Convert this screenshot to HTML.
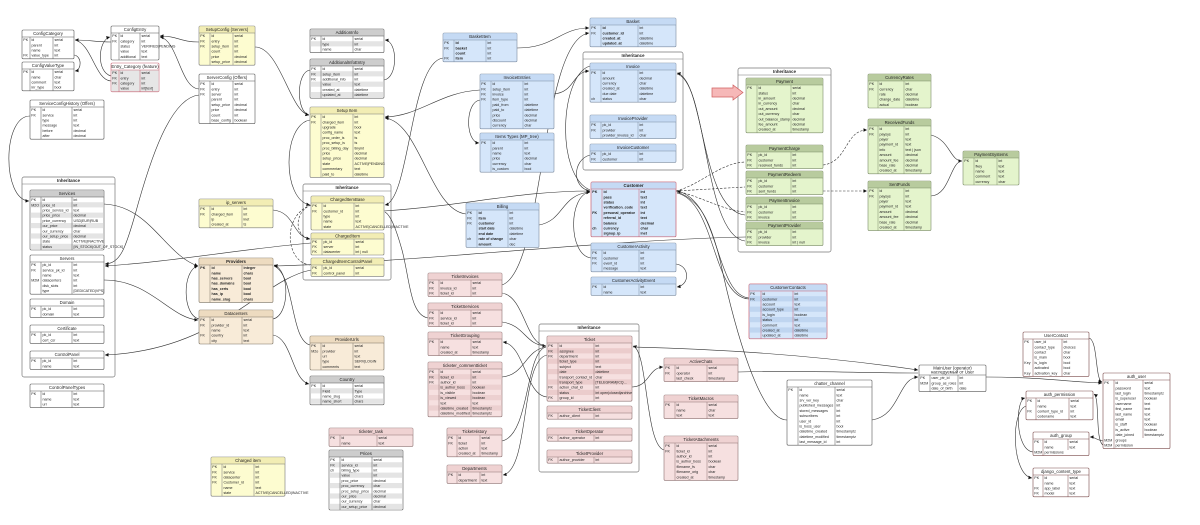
<!DOCTYPE html>
<html><head><meta charset="utf-8"><style>
html,body{margin:0;padding:0;background:#fff;width:1200px;height:525px;overflow:hidden}
svg{display:block}
text{font-family:"Liberation Sans",sans-serif;fill:#222}
.t{font-size:4.3px;text-anchor:middle}
.r{font-size:3.6px}
.b{font-weight:bold}
.ln{fill:none;stroke:#333;stroke-width:.6}
.ds{stroke-dasharray:2.5 1.5}
.g{stroke-width:.5}
</style></head><body>
<svg width="1200" height="525" viewBox="0 0 1200 525" xmlns="http://www.w3.org/2000/svg">
<defs><marker id="a" viewBox="0 0 6 6" refX="6" refY="3" markerWidth="3.6" markerHeight="3.6" markerUnits="userSpaceOnUse" orient="auto"><path d="M0 0L6 3L0 6z" fill="#111"/></marker></defs>
<rect width="1200" height="525" fill="#fff"/>

<!-- containers -->
<g transform="translate(22,177)"><rect width="93" height="200" rx="2" fill="#fff" stroke="#777" stroke-width=".7"/><path d="M0 7H93" stroke="#777" stroke-width=".5"/><text class="t b" x="46.5" y="5.2">Inheritance</text></g>
<g transform="translate(303,184)"><rect width="88" height="96" rx="2" fill="#fff" stroke="#777" stroke-width=".7"/><path d="M0 7H88" stroke="#777" stroke-width=".5"/><text class="t b" x="44" y="5.2">Inheritance</text></g>
<g transform="translate(583,52)"><rect width="100" height="118" rx="2" fill="#fff" stroke="#777" stroke-width=".7"/><path d="M0 7H100" stroke="#777" stroke-width=".5"/><text class="t b" x="50" y="5.2">Inheritance</text></g>
<g transform="translate(738,68)"><rect width="93" height="184" rx="2" fill="#fff" stroke="#777" stroke-width=".7"/><path d="M0 7H93" stroke="#777" stroke-width=".5"/><text class="t b" x="46.5" y="5.2">Inheritance</text></g>
<g transform="translate(539,324)"><rect width="100" height="148" rx="2" fill="#fff" stroke="#777" stroke-width=".7"/><path d="M0 7H100" stroke="#777" stroke-width=".5"/><text class="t b" x="50" y="5.2">Inheritance</text></g>

<!-- connectors -->
<g class="ln">
<path d="M111 42C95 42 90 40 75 40" marker-end="url(#a)"/>
<path d="M111 76C96 72 98 40 110 37" marker-end="url(#a)"/>
<path d="M111 81C95 80 92 44 75 40"/>
<path d="M74 55C82 56 82 70 75 71" marker-end="url(#a)"/>
<path d="M199 42C180 42 178 36 160 36" marker-end="url(#a)"/>
<path d="M199 89C180 88 178 40 160 37" marker-end="url(#a)"/>
<path d="M255 47C280 47 290 112 309 115" marker-end="url(#a)"/>
<path d="M199 95C170 98 150 160 135 215C125 250 120 263 105 264" marker-end="url(#a)"/>
<path d="M30 116C2 116 2 200 29 201" marker-end="url(#a)"/>
<path d="M104 204C150 206 165 255 198 266" marker-end="url(#a)"/>
<path d="M104 280C150 280 170 318 198 320" marker-end="url(#a)"/>
<path d="M311 243C250 248 170 262 105 266" marker-end="url(#a)"/>
<path d="M311 270C260 280 220 350 105 355" marker-end="url(#a)"/>
<path d="M199 319C182 315 182 270 198 266" marker-end="url(#a)"/>
<path d="M273 319C290 315 290 270 274 265" marker-end="url(#a)"/>
<path d="M273 335C292 338 292 380 309 384" marker-end="url(#a)"/>
<path d="M310 345C290 340 295 275 274 266"/>
<path d="M746 237C600 240 420 262 274 266" marker-end="url(#a)"/>
<path d="M310 120C282 125 282 200 310 205" marker-end="url(#a)"/>
<path class="ds" d="M311 205C282 215 285 262 310 265"/>
<path class="ds" d="M311 205C294 212 294 236 310 239"/>
<path d="M273 210C295 212 292 236 310 239" marker-end="url(#a)"/>
<path d="M310 70C296 72 296 112 309 115" marker-end="url(#a)"/>
<path d="M384 80C398 78 398 41 385 40" marker-end="url(#a)"/>
<path d="M480 90C440 92 420 116 385 117" marker-end="url(#a)"/>
<path d="M466 214C430 210 420 122 385 118" marker-end="url(#a)"/>
<path d="M443 58C410 62 410 200 385 205" marker-end="url(#a)"/>
<path d="M517 48C555 48 560 28 589 28" marker-end="url(#a)"/>
<path d="M554 94C575 92 572 72 589 71" marker-end="url(#a)"/>
<path d="M480 100C465 102 465 142 479 143" marker-end="url(#a)"/>
<path d="M384 211C470 205 520 191 590 191" marker-end="url(#a)"/>
<path d="M539 225C565 220 560 195 590 192" marker-end="url(#a)"/>
<path d="M590 155C572 160 572 188 590 191"/>
<path d="M591 258C568 255 568 195 590 192" marker-end="url(#a)"/>
<path d="M676 264C690 266 690 285 677 287" marker-end="url(#a)"/>
<path d="M502 285C545 270 540 40 589 33" marker-end="url(#a)"/>
<path d="M590 66C560 75 555 175 590 190"/>
<path class="ds" d="M676 191C700 185 720 163 745 162"/>
<path class="ds" d="M676 191L745 187"/>
<path class="ds" d="M676 191C700 196 722 210 745 212"/>
<path d="M745 215C700 210 705 80 677 73" marker-end="url(#a)"/>
<path d="M745 241C703 235 708 82 677 74"/>
<path d="M749 298C715 295 720 200 677 191" marker-end="url(#a)"/>
<path d="M749 299C712 297 716 202 677 193"/>
<path d="M787 420C760 420 735 330 720 260C710 220 700 200 677 192"/>
<path class="ds" d="M823 165C848 162 845 130 867 130" marker-end="url(#a)"/>
<path class="ds" d="M823 191L867 191" marker-end="url(#a)"/>
<path d="M931 135C950 140 950 161 962 161" marker-end="url(#a)"/>
<path d="M931 196C950 195 950 162 962 161"/>
<path d="M502 293C525 297 525 344 546 346" marker-end="url(#a)"/>
<path d="M502 322C525 325 525 345 546 346"/>
<path d="M502 377C525 375 525 350 546 347"/>
<path d="M502 441C530 435 525 352 546 347"/>
<path d="M547 397C525 395 525 345 503 342" marker-end="url(#a)"/>
<path d="M547 355C520 360 530 470 503 475" marker-end="url(#a)"/>
<path d="M428 318C410 315 410 280 402 250C395 225 390 215 385 212"/>
<path d="M632 387C650 386 648 368 663 367" marker-end="url(#a)"/>
<path d="M664 450C645 445 648 350 633 346" marker-end="url(#a)"/>
<path d="M633 347C760 350 850 360 918 370" marker-end="url(#a)"/>
<path d="M738 372C800 370 860 373 918 373"/>
<path d="M872 420C900 416 898 378 918 377" marker-end="url(#a)"/>
<path d="M986 377C1040 377 1070 382 1102 383" marker-end="url(#a)"/>
<path d="M1089 338C1098 340 1095 380 1102 382" marker-end="url(#a)"/>
<path d="M1103 441C1096 440 1095 437 1090 437" marker-end="url(#a)"/>
<path d="M1103 445C1095 440 1100 398 1094 394" marker-end="url(#a)"/>
<path d="M1033 452C1015 450 1015 400 1025 398" marker-end="url(#a)"/>
<path d="M1026 406C1010 412 1012 475 1032 478" marker-end="url(#a)"/>
</g>

<!-- pink arrow -->
<path d="M712 88H733V85L743 92.5L733 100V97H712Z" fill="#f6b8b8" stroke="#d06060" stroke-width=".7"/>

<!-- ConfigCategory -->
<g transform="translate(22,30)"><rect width="52" height="28.8" rx="1.2" fill="#fff" stroke="#555" stroke-width=".6"/><path class="g" d="M0 7H52M8 7V28.8M31 7V28.8" stroke="#555"/><text class="t" x="26" y="5.2">ConfigCategory</text><text class="r" x="1.3" y="11.1">PK</text><text class="r" x="1.3" y="26.7">FK</text><text class="r" y="11.1"><tspan x="9.5">id</tspan><tspan x="9.5" dy="5.2">parent</tspan><tspan x="9.5" dy="5.2">name</tspan><tspan x="9.5" dy="5.2">value_type</tspan></text><text class="r" y="11.1"><tspan x="32.5">serial</tspan><tspan x="32.5" dy="5.2">int</tspan><tspan x="32.5" dy="5.2">text</tspan><tspan x="32.5" dy="5.2">int</tspan></text></g>
<!-- ConfigValueType -->
<g transform="translate(22,62)"><rect width="52" height="28.8" rx="1.2" fill="#fff" stroke="#555" stroke-width=".6"/><path class="g" d="M0 7H52M8 7V28.8M31 7V28.8" stroke="#555"/><text class="t" x="26" y="5.2">ConfigValueType</text><text class="r" x="1.3" y="11.1">PK</text><text class="r" y="11.1"><tspan x="9.5">id</tspan><tspan x="9.5" dy="5.2">name</tspan><tspan x="9.5" dy="5.2">comment</tspan><tspan x="9.5" dy="5.2">inr_type</tspan></text><text class="r" y="11.1"><tspan x="32.5">serial</tspan><tspan x="32.5" dy="5.2">char</tspan><tspan x="32.5" dy="5.2">text</tspan><tspan x="32.5" dy="5.2">bool</tspan></text></g>
<!-- ConfigEntry -->
<g transform="translate(111,26)"><rect width="48" height="34" rx="1.2" fill="#fff" stroke="#555" stroke-width=".6"/><path class="g" d="M0 7H48M8 7V34M29 7V34" stroke="#555"/><text class="t" x="24" y="5.2">ConfigEntry</text><text class="r" x="1.3" y="11.1">PK</text><text class="r" x="1.3" y="16.3">FK</text><text class="r" y="11.1"><tspan x="9.5">id</tspan><tspan x="9.5" dy="5.2">category</tspan><tspan x="9.5" dy="5.2">status</tspan><tspan x="9.5" dy="5.2">value</tspan><tspan x="9.5" dy="5.2">additional</tspan></text><text class="r" y="11.1"><tspan x="30.5">serial</tspan><tspan x="30.5" dy="5.2">int</tspan><tspan x="30.5" dy="5.2">VERIFIED|PENDING</tspan><tspan x="30.5" dy="5.2">text</tspan><tspan x="30.5" dy="5.2">text</tspan></text></g>
<!-- Entry_Category -->
<g transform="translate(111,63)"><rect width="48" height="28.8" rx="1.2" fill="#fff" stroke="#c86070" stroke-width=".6"/><rect x=".3" y="7" width="47.4" height="21.5" fill="#e6e6e6"/><path class="g" d="M0 7H48M8 7V28.8M29 7V28.8" stroke="#c86070"/><text class="t" x="24" y="5.2">Entry_Category (feature)</text><text class="r" x="1.3" y="11.1">PK</text><text class="r" x="1.3" y="16.3">FK</text><text class="r" x="1.3" y="21.5">FK</text><text class="r" y="11.1"><tspan x="9.5">id</tspan><tspan x="9.5" dy="5.2">entry</tspan><tspan x="9.5" dy="5.2">category</tspan><tspan x="9.5" dy="5.2">value</tspan></text><text class="r" y="11.1"><tspan x="30.5">serial</tspan><tspan x="30.5" dy="5.2">int</tspan><tspan x="30.5" dy="5.2">int</tspan><tspan x="30.5" dy="5.2">int[text]</tspan></text></g>
<!-- SetupConfig -->
<g transform="translate(199,26)"><rect width="56" height="39.2" rx="1.2" fill="#fdfcd0" stroke="#777" stroke-width=".6"/><rect x=".3" y=".3" width="55.4" height="6.7" fill="#f2edb4"/><path class="g" d="M0 7H56M11 7V39.2M34 7V39.2" stroke="#777"/><text class="t" x="28" y="5.2">SetupConfig (Servers)</text><text class="r" x="1.3" y="11.1">PK</text><text class="r" x="1.3" y="16.3">FK</text><text class="r" x="1.3" y="21.5">FK</text><text class="r" y="11.1"><tspan x="12.5">id</tspan><tspan x="12.5" dy="5.2">entry</tspan><tspan x="12.5" dy="5.2">setup_item</tspan><tspan x="12.5" dy="5.2">count</tspan><tspan x="12.5" dy="5.2">price</tspan><tspan x="12.5" dy="5.2">setup_price</tspan></text><text class="r" y="11.1"><tspan x="35.5">serial</tspan><tspan x="35.5" dy="5.2">int</tspan><tspan x="35.5" dy="5.2">int</tspan><tspan x="35.5" dy="5.2">int</tspan><tspan x="35.5" dy="5.2">decimal</tspan><tspan x="35.5" dy="5.2">decimal</tspan></text></g>
<!-- ServerConfig -->
<g transform="translate(199,74)"><rect width="56" height="49.6" rx="1.2" fill="#fff" stroke="#555" stroke-width=".6"/><path class="g" d="M0 7H56M11 7V49.6M34 7V49.6" stroke="#555"/><text class="t" x="28" y="5.2">ServerConfig (Offers)</text><text class="r" x="1.3" y="11.1">PK</text><text class="r" x="1.3" y="16.3">FK</text><text class="r" x="1.3" y="21.5">FK</text><text class="r" y="11.1"><tspan x="12.5">id</tspan><tspan x="12.5" dy="5.2">entry</tspan><tspan x="12.5" dy="5.2">server</tspan><tspan x="12.5" dy="5.2">parent</tspan><tspan x="12.5" dy="5.2">setup_price</tspan><tspan x="12.5" dy="5.2">price</tspan><tspan x="12.5" dy="5.2">count</tspan><tspan x="12.5" dy="5.2">base_config</tspan></text><text class="r" y="11.1"><tspan x="35.5">serial</tspan><tspan x="35.5" dy="5.2">int</tspan><tspan x="35.5" dy="5.2">int</tspan><tspan x="35.5" dy="5.2">int</tspan><tspan x="35.5" dy="5.2">decimal</tspan><tspan x="35.5" dy="5.2">decimal</tspan><tspan x="35.5" dy="5.2">int</tspan><tspan x="35.5" dy="5.2">boolean</tspan></text></g>
<!-- ServiceConfigHistory -->
<g transform="translate(30,100)"><rect width="74" height="39.2" rx="1.2" fill="#fff" stroke="#555" stroke-width=".6"/><path class="g" d="M0 7H74M11 7V39.2M42 7V39.2" stroke="#555"/><text class="t" x="37" y="5.2">ServiceConfigHistory (Offers)</text><text class="r" x="1.3" y="11.1">PK</text><text class="r" x="1.3" y="16.3">FK</text><text class="r" y="11.1"><tspan x="12.5">id</tspan><tspan x="12.5" dy="5.2">service</tspan><tspan x="12.5" dy="5.2">type</tspan><tspan x="12.5" dy="5.2">message</tspan><tspan x="12.5" dy="5.2">before</tspan><tspan x="12.5" dy="5.2">after</tspan></text><text class="r" y="11.1"><tspan x="43.5">serial</tspan><tspan x="43.5" dy="5.2">int</tspan><tspan x="43.5" dy="5.2">int</tspan><tspan x="43.5" dy="5.2">text</tspan><tspan x="43.5" dy="5.2">decimal</tspan><tspan x="43.5" dy="5.2">decimal</tspan></text></g>
<!-- Services -->
<g transform="translate(30,190)"><rect width="74" height="60" rx="1.2" fill="#fff" stroke="#555" stroke-width=".6"/><rect x=".3" y=".3" width="73.4" height="6.7" fill="#cdcdcd"/><g fill="#e4e4e4"><rect x=".3" y="12.2" width="73.4" height="5.2"/><rect x=".3" y="22.6" width="73.4" height="5.2"/><rect x=".3" y="33" width="73.4" height="5.2"/><rect x=".3" y="43.4" width="73.4" height="5.2"/><rect x=".3" y="53.8" width="73.4" height="5.2"/></g><path class="g" d="M0 7H74M11 7V60M42 7V60" stroke="#555"/><text class="t" x="37" y="5.2">Services</text><text class="r" x="1.3" y="11.1">PK</text><text class="r" x="1.3" y="16.3">M2O</text><text class="r" y="11.1"><tspan x="12.5">id</tspan><tspan x="12.5" dy="5.2">price_id</tspan><tspan x="12.5" dy="5.2">price_service_id</tspan><tspan x="12.5" dy="5.2">price_price</tspan><tspan x="12.5" dy="5.2">price_currency</tspan><tspan x="12.5" dy="5.2">our_price</tspan><tspan x="12.5" dy="5.2">our_currency</tspan><tspan x="12.5" dy="5.2">our_setup_price</tspan><tspan x="12.5" dy="5.2">state</tspan><tspan x="12.5" dy="5.2">status</tspan></text><text class="r" y="11.1"><tspan x="43.5">int</tspan><tspan x="43.5" dy="5.2">int</tspan><tspan x="43.5" dy="5.2">text</tspan><tspan x="43.5" dy="5.2">decimal</tspan><tspan x="43.5" dy="5.2">USD|EUR|RUB</tspan><tspan x="43.5" dy="5.2">decimal</tspan><tspan x="43.5" dy="5.2">char</tspan><tspan x="43.5" dy="5.2">decimal</tspan><tspan x="43.5" dy="5.2">ACTIVE|INACTIVE</tspan><tspan x="43.5" dy="5.2">[IN_STOCK|OUT_OF_STOCK]</tspan></text></g>
<!-- Servers -->
<g transform="translate(30,255)"><rect width="74" height="39.2" rx="1.2" fill="#fff" stroke="#555" stroke-width=".6"/><path class="g" d="M0 7H74M11 7V39.2M42 7V39.2" stroke="#555"/><text class="t" x="37" y="5.2">Servers</text><text class="r" x="1.3" y="11.1">PK</text><text class="r" x="1.3" y="16.3">FK</text><text class="r" x="1.3" y="26.7">M2M</text><text class="r" y="11.1"><tspan x="12.5">pk_id</tspan><tspan x="12.5" dy="5.2">service_pk_id</tspan><tspan x="12.5" dy="5.2">name</tspan><tspan x="12.5" dy="5.2">datacenters</tspan><tspan x="12.5" dy="5.2">disk_slots</tspan><tspan x="12.5" dy="5.2">type</tspan></text><text class="r" y="11.1"><tspan x="43.5">int</tspan><tspan x="43.5" dy="5.2">int</tspan><tspan x="43.5" dy="5.2">text</tspan><tspan x="43.5" dy="5.2">int</tspan><tspan x="43.5" dy="5.2">int</tspan><tspan x="43.5" dy="5.2">[DEDICATED|VPS]</tspan></text></g>
<!-- Domain -->
<g transform="translate(30,299)"><rect width="74" height="18.4" rx="1.2" fill="#fff" stroke="#555" stroke-width=".6"/><path class="g" d="M0 7H74M11 7V18.4M42 7V18.4" stroke="#555"/><text class="t" x="37" y="5.2">Domain</text><text class="r" x="1.3" y="11.1">PK</text><text class="r" y="11.1"><tspan x="12.5">pk_id</tspan><tspan x="12.5" dy="5.2">domain</tspan></text><text class="r" y="11.1"><tspan x="43.5">int</tspan><tspan x="43.5" dy="5.2">text</tspan></text></g>
<!-- Certificate -->
<g transform="translate(30,325)"><rect width="74" height="18.4" rx="1.2" fill="#fff" stroke="#555" stroke-width=".6"/><path class="g" d="M0 7H74M11 7V18.4M42 7V18.4" stroke="#555"/><text class="t" x="37" y="5.2">Certificate</text><text class="r" x="1.3" y="11.1">PK</text><text class="r" y="11.1"><tspan x="12.5">pk_id</tspan><tspan x="12.5" dy="5.2">cert_csr</tspan></text><text class="r" y="11.1"><tspan x="43.5">int</tspan><tspan x="43.5" dy="5.2">text</tspan></text></g>
<!-- ControlPanel -->
<g transform="translate(30,351)"><rect width="74" height="18.4" rx="1.2" fill="#fff" stroke="#555" stroke-width=".6"/><path class="g" d="M0 7H74M11 7V18.4M42 7V18.4" stroke="#555"/><text class="t" x="37" y="5.2">ControlPanel</text><text class="r" x="1.3" y="11.1">PK</text><text class="r" y="11.1"><tspan x="12.5">pk_id</tspan><tspan x="12.5" dy="5.2">name</tspan></text><text class="r" y="11.1"><tspan x="43.5">int</tspan><tspan x="43.5" dy="5.2">text</tspan></text></g>
<!-- ControlPanelTypes -->
<g transform="translate(30,384)"><rect width="74" height="23.6" rx="1.2" fill="#fff" stroke="#555" stroke-width=".6"/><path class="g" d="M0 7H74M11 7V23.6M42 7V23.6" stroke="#555"/><text class="t" x="37" y="5.2">ControlPanelTypes</text><text class="r" x="1.3" y="11.1">PK</text><text class="r" y="11.1"><tspan x="12.5">id</tspan><tspan x="12.5" dy="5.2">name</tspan><tspan x="12.5" dy="5.2">url</tspan></text><text class="r" y="11.1"><tspan x="43.5">int</tspan><tspan x="43.5" dy="5.2">text</tspan><tspan x="43.5" dy="5.2">text</tspan></text></g>
<!-- ip_servers -->
<g transform="translate(199,199)"><rect width="74" height="28.8" rx="1.2" fill="#fdfcd0" stroke="#777" stroke-width=".6"/><rect x=".3" y=".3" width="73.4" height="6.7" fill="#f2edb4"/><path class="g" d="M0 7H74M11 7V28.8M43 7V28.8" stroke="#777"/><text class="t" x="37" y="5.2">ip_servers</text><text class="r" x="1.3" y="11.1">PK</text><text class="r" x="1.3" y="16.3">FK</text><text class="r" y="11.1"><tspan x="12.5">id</tspan><tspan x="12.5" dy="5.2">charged_item</tspan><tspan x="12.5" dy="5.2">ip</tspan><tspan x="12.5" dy="5.2">created_at</tspan></text><text class="r" y="11.1"><tspan x="44.5">int</tspan><tspan x="44.5" dy="5.2">int</tspan><tspan x="44.5" dy="5.2">inet</tspan><tspan x="44.5" dy="5.2">ts</tspan></text></g>
<!-- Providers -->
<g transform="translate(199,258)"><rect width="74" height="44.4" rx="1.2" fill="#f8ebd8" stroke="#7a7060" stroke-width=".6"/><rect x=".3" y=".3" width="73.4" height="6.7" fill="#eddbc0"/><path class="g" d="M0 7H74M11 7V44.4M43 7V44.4" stroke="#7a7060"/><text class="t b" x="37" y="5.2">Providers</text><text class="r b" x="1.3" y="11.1">PK</text><text class="r b" y="11.1"><tspan x="12.5">id</tspan><tspan x="12.5" dy="5.2">name</tspan><tspan x="12.5" dy="5.2">has_servers</tspan><tspan x="12.5" dy="5.2">has_domains</tspan><tspan x="12.5" dy="5.2">has_certs</tspan><tspan x="12.5" dy="5.2">has_ip</tspan><tspan x="12.5" dy="5.2">name_slug</tspan></text><text class="r b" y="11.1"><tspan x="44.5">integer</tspan><tspan x="44.5" dy="5.2">chars</tspan><tspan x="44.5" dy="5.2">bool</tspan><tspan x="44.5" dy="5.2">bool</tspan><tspan x="44.5" dy="5.2">bool</tspan><tspan x="44.5" dy="5.2">bool</tspan><tspan x="44.5" dy="5.2">chars</tspan></text></g>
<!-- Datacenters -->
<g transform="translate(199,310)"><rect width="74" height="34" rx="1.2" fill="#f8ebd8" stroke="#7a7060" stroke-width=".6"/><rect x=".3" y=".3" width="73.4" height="6.7" fill="#eddbc0"/><path class="g" d="M0 7H74M11 7V34M43 7V34" stroke="#7a7060"/><text class="t" x="37" y="5.2">Datacenters</text><text class="r" x="1.3" y="11.1">PK</text><text class="r" x="1.3" y="16.3">FK</text><text class="r" x="1.3" y="26.7">FK</text><text class="r" y="11.1"><tspan x="12.5">id</tspan><tspan x="12.5" dy="5.2">provider_id</tspan><tspan x="12.5" dy="5.2">name</tspan><tspan x="12.5" dy="5.2">country</tspan><tspan x="12.5" dy="5.2">city</tspan></text><text class="r" y="11.1"><tspan x="44.5">serial</tspan><tspan x="44.5" dy="5.2">int</tspan><tspan x="44.5" dy="5.2">text</tspan><tspan x="44.5" dy="5.2">int</tspan><tspan x="44.5" dy="5.2">text</tspan></text></g>
<!-- Charged item -->
<g transform="translate(211,457)"><rect width="74" height="39.2" rx="1.2" fill="#fdfcd0" stroke="#777" stroke-width=".6"/><rect x=".3" y=".3" width="73.4" height="6.7" fill="#f2edb4"/><path class="g" d="M0 7H74M11 7V39.2M43 7V39.2" stroke="#777"/><text class="t" x="37" y="5.2">Charged item</text><text class="r" x="1.3" y="11.1">PK</text><text class="r" x="1.3" y="16.3">FK</text><text class="r" x="1.3" y="21.5">FK</text><text class="r" x="1.3" y="26.7">FK</text><text class="r" y="11.1"><tspan x="12.5">id</tspan><tspan x="12.5" dy="5.2">service</tspan><tspan x="12.5" dy="5.2">datacenter</tspan><tspan x="12.5" dy="5.2">Customer_id</tspan><tspan x="12.5" dy="5.2">name</tspan><tspan x="12.5" dy="5.2">state</tspan></text><text class="r" y="11.1"><tspan x="44.5">int</tspan><tspan x="44.5" dy="5.2">int</tspan><tspan x="44.5" dy="5.2">int</tspan><tspan x="44.5" dy="5.2">int</tspan><tspan x="44.5" dy="5.2">text</tspan><tspan x="44.5" dy="5.2">ACTIVE|CANCELLED|INACTIVE</tspan></text></g>
<!-- AdditionInfo -->
<g transform="translate(310,29)"><rect width="74" height="23.6" rx="1.2" fill="#fff" stroke="#555" stroke-width=".6"/><rect x=".3" y=".3" width="73.4" height="6.7" fill="#cdcdcd"/><rect x=".3" y="12.2" width="73.4" height="5.2" fill="#e4e4e4"/><path class="g" d="M0 7H74M11 7V23.6M43 7V23.6" stroke="#555"/><text class="t" x="37" y="5.2">AdditionInfo</text><text class="r" x="1.3" y="11.1">PK</text><text class="r" y="11.1"><tspan x="12.5">id</tspan><tspan x="12.5" dy="5.2">type</tspan><tspan x="12.5" dy="5.2">name</tspan></text><text class="r" y="11.1"><tspan x="44.5">serial</tspan><tspan x="44.5" dy="5.2">int</tspan><tspan x="44.5" dy="5.2">char</tspan></text></g>
<!-- AdditionalInfoEntry -->
<g transform="translate(310,59)"><rect width="74" height="39.2" rx="1.2" fill="#fff" stroke="#555" stroke-width=".6"/><rect x=".3" y=".3" width="73.4" height="6.7" fill="#cdcdcd"/><g fill="#e4e4e4"><rect x=".3" y="12.2" width="73.4" height="5.2"/><rect x=".3" y="22.6" width="73.4" height="5.2"/><rect x=".3" y="33" width="73.4" height="5.2"/></g><path class="g" d="M0 7H74M11 7V39.2M43 7V39.2" stroke="#555"/><text class="t" x="37" y="5.2">AdditionalInfoEntry</text><text class="r" x="1.3" y="11.1">PK</text><text class="r" x="1.3" y="16.3">FK</text><text class="r" x="1.3" y="21.5">FK</text><text class="r" y="11.1"><tspan x="12.5">id</tspan><tspan x="12.5" dy="5.2">setup_item</tspan><tspan x="12.5" dy="5.2">additional_info</tspan><tspan x="12.5" dy="5.2">value</tspan><tspan x="12.5" dy="5.2">created_at</tspan><tspan x="12.5" dy="5.2">updated_at</tspan></text><text class="r" y="11.1"><tspan x="44.5">serial</tspan><tspan x="44.5" dy="5.2">int</tspan><tspan x="44.5" dy="5.2">int</tspan><tspan x="44.5" dy="5.2">text</tspan><tspan x="44.5" dy="5.2">datetime</tspan><tspan x="44.5" dy="5.2">datetime</tspan></text></g>
<!-- Setup Item -->
<g transform="translate(310,107)"><rect width="74" height="70.4" rx="1.2" fill="#fdfcd0" stroke="#777" stroke-width=".6"/><rect x=".3" y=".3" width="73.4" height="6.7" fill="#f2edb4"/><path class="g" d="M0 7H74M11 7V70.4M43 7V70.4" stroke="#777"/><text class="t" x="37" y="5.2">Setup Item</text><text class="r" x="1.3" y="11.1">PK</text><text class="r" x="1.3" y="16.3">FK</text><text class="r" y="11.1"><tspan x="12.5">id</tspan><tspan x="12.5" dy="5.2">charged_item</tspan><tspan x="12.5" dy="5.2">upgrade</tspan><tspan x="12.5" dy="5.2">config_name</tspan><tspan x="12.5" dy="5.2">proc_order_is</tspan><tspan x="12.5" dy="5.2">proc_setup_is</tspan><tspan x="12.5" dy="5.2">proc_billing_day</tspan><tspan x="12.5" dy="5.2">price</tspan><tspan x="12.5" dy="5.2">setup_price</tspan><tspan x="12.5" dy="5.2">state</tspan><tspan x="12.5" dy="5.2">commentary</tspan><tspan x="12.5" dy="5.2">paid_to</tspan></text><text class="r" y="11.1"><tspan x="44.5">int</tspan><tspan x="44.5" dy="5.2">int</tspan><tspan x="44.5" dy="5.2">bool</tspan><tspan x="44.5" dy="5.2">text</tspan><tspan x="44.5" dy="5.2">ts</tspan><tspan x="44.5" dy="5.2">ts</tspan><tspan x="44.5" dy="5.2">tinyint</tspan><tspan x="44.5" dy="5.2">decimal</tspan><tspan x="44.5" dy="5.2">decimal</tspan><tspan x="44.5" dy="5.2">ACTIVE|PENDING</tspan><tspan x="44.5" dy="5.2">text</tspan><tspan x="44.5" dy="5.2">datetime</tspan></text></g>
<!-- ChargedItemBase -->
<g transform="translate(311,196)"><rect width="73" height="34" rx="1.2" fill="#fdfcd0" stroke="#777" stroke-width=".6"/><rect x=".3" y=".3" width="72.4" height="6.7" fill="#f2edb4"/><path class="g" d="M0 7H73M11 7V34M43 7V34" stroke="#777"/><text class="t" x="36.5" y="5.2">ChargedItemBase</text><text class="r" x="1.3" y="11.1">PK</text><text class="r" x="1.3" y="16.3">FK</text><text class="r" y="11.1"><tspan x="12.5">id</tspan><tspan x="12.5" dy="5.2">customer_id</tspan><tspan x="12.5" dy="5.2">type</tspan><tspan x="12.5" dy="5.2">name</tspan><tspan x="12.5" dy="5.2">state</tspan></text><text class="r" y="11.1"><tspan x="44.5">int</tspan><tspan x="44.5" dy="5.2">int</tspan><tspan x="44.5" dy="5.2">int</tspan><tspan x="44.5" dy="5.2">text</tspan><tspan x="44.5" dy="5.2">ACTIVE|CANCELLED|INACTIVE</tspan></text></g>
<!-- ChargedItem -->
<g transform="translate(311,233)"><rect width="73" height="22" rx="1.2" fill="#fdfcd0" stroke="#777" stroke-width=".6"/><rect x=".3" y=".3" width="72.4" height="5.7" fill="#f2edb4"/><path class="g" d="M0 6H73M11 6V22M43 6V22" stroke="#777"/><text class="t" x="36.5" y="4.7">ChargedItem</text><text class="r" x="1.3" y="9.8">PK</text><text class="r" x="1.3" y="14.9">FK</text><text class="r" x="1.3" y="20">FK</text><text class="r" y="9.8"><tspan x="12.5">pk_id</tspan><tspan x="12.5" dy="5.1">server</tspan><tspan x="12.5" dy="5.1">datacenter</tspan></text><text class="r" y="9.8"><tspan x="44.5">serial</tspan><tspan x="44.5" dy="5.1">int</tspan><tspan x="44.5" dy="5.1">int | null</tspan></text></g>
<!-- ChargedItemControlPanel -->
<g transform="translate(311,258)"><rect width="73" height="18.4" rx="1.2" fill="#fdfcd0" stroke="#777" stroke-width=".6"/><rect x=".3" y=".3" width="72.4" height="6.7" fill="#f2edb4"/><path class="g" d="M0 7H73M11 7V18.4M43 7V18.4" stroke="#777"/><text class="t" x="36.5" y="5.2">ChargedItemControlPanel</text><text class="r" x="1.3" y="11.1">PK</text><text class="r" x="1.3" y="16.3">FK</text><text class="r" y="11.1"><tspan x="12.5">pk_id</tspan><tspan x="12.5" dy="5.2">control_panel</tspan></text><text class="r" y="11.1"><tspan x="44.5">serial</tspan><tspan x="44.5" dy="5.2">int</tspan></text></g>
<!-- ProviderUrls -->
<g transform="translate(310,336)"><rect width="74" height="34" rx="1.2" fill="#f8ebd8" stroke="#7a7060" stroke-width=".6"/><rect x=".3" y=".3" width="73.4" height="6.7" fill="#eddbc0"/><path class="g" d="M0 7H74M11 7V34M43 7V34" stroke="#7a7060"/><text class="t" x="37" y="5.2">ProviderUrls</text><text class="r" x="1.3" y="11.1">PK</text><text class="r" x="1.3" y="16.3">M2o</text><text class="r" y="11.1"><tspan x="12.5">id</tspan><tspan x="12.5" dy="5.2">provider</tspan><tspan x="12.5" dy="5.2">url</tspan><tspan x="12.5" dy="5.2">type</tspan><tspan x="12.5" dy="5.2">comments</tspan></text><text class="r" y="11.1"><tspan x="44.5">serial</tspan><tspan x="44.5" dy="5.2">int</tspan><tspan x="44.5" dy="5.2">text</tspan><tspan x="44.5" dy="5.2">SERV|LOGIN</tspan><tspan x="44.5" dy="5.2">text</tspan></text></g>
<!-- Country -->
<g transform="translate(310,376)"><rect width="74" height="28.8" rx="1.2" fill="#fff" stroke="#555" stroke-width=".6"/><rect x=".3" y=".3" width="73.4" height="6.7" fill="#cdcdcd"/><g fill="#e4e4e4"><rect x=".3" y="12.2" width="73.4" height="5.2"/><rect x=".3" y="22.6" width="73.4" height="5.2"/></g><path class="g" d="M0 7H74M11 7V28.8M43 7V28.8" stroke="#555"/><text class="t" x="37" y="5.2">Country</text><text class="r" x="1.3" y="11.1">PK</text><text class="r" y="11.1"><tspan x="12.5">id</tspan><tspan x="12.5" dy="5.2">Field</tspan><tspan x="12.5" dy="5.2">name_slug</tspan><tspan x="12.5" dy="5.2">name_short</tspan></text><text class="r" y="11.1"><tspan x="44.5">serial</tspan><tspan x="44.5" dy="5.2">Type</tspan><tspan x="44.5" dy="5.2">chars</tspan><tspan x="44.5" dy="5.2">chars</tspan></text></g>
<!-- ticketer_task -->
<g transform="translate(329,428)"><rect width="84" height="18.4" rx="1.2" fill="#f6e0e0" stroke="#8c7070" stroke-width=".6"/><rect x=".3" y=".3" width="83.4" height="6.7" fill="#efd2d2"/><path class="g" d="M0 7H84M11 7V18.4M48 7V18.4" stroke="#8c7070"/><text class="t" x="42" y="5.2">ticketer_task</text><text class="r" x="1.3" y="11.1">PK</text><text class="r" y="11.1"><tspan x="12.5">id</tspan><tspan x="12.5" dy="5.2">name</tspan></text><text class="r" y="11.1"><tspan x="49.5">serial</tspan><tspan x="49.5" dy="5.2">text</tspan></text></g>
<!-- Prices -->
<g transform="translate(329,450)"><rect width="74" height="60" rx="1.2" fill="#fff" stroke="#555" stroke-width=".6"/><rect x=".3" y=".3" width="73.4" height="6.7" fill="#cdcdcd"/><g fill="#e4e4e4"><rect x=".3" y="12.2" width="73.4" height="5.2"/><rect x=".3" y="22.6" width="73.4" height="5.2"/><rect x=".3" y="33" width="73.4" height="5.2"/><rect x=".3" y="43.4" width="73.4" height="5.2"/><rect x=".3" y="53.8" width="73.4" height="5.2"/></g><path class="g" d="M0 7H74M11 7V60M43 7V60" stroke="#555"/><text class="t" x="37" y="5.2">Prices</text><text class="r" x="1.3" y="11.1">PK</text><text class="r" x="1.3" y="16.3">FK</text><text class="r" x="1.3" y="21.5">ch</text><text class="r" y="11.1"><tspan x="12.5">id</tspan><tspan x="12.5" dy="5.2">service_id</tspan><tspan x="12.5" dy="5.2">billing_type</tspan><tspan x="12.5" dy="5.2">value</tspan><tspan x="12.5" dy="5.2">proc_price</tspan><tspan x="12.5" dy="5.2">proc_currency</tspan><tspan x="12.5" dy="5.2">proc_setup_price</tspan><tspan x="12.5" dy="5.2">our_price</tspan><tspan x="12.5" dy="5.2">our_currency</tspan><tspan x="12.5" dy="5.2">our_setup_price</tspan></text><text class="r" y="11.1"><tspan x="44.5">serial</tspan><tspan x="44.5" dy="5.2">int</tspan><tspan x="44.5" dy="5.2">int</tspan><tspan x="44.5" dy="5.2">int</tspan><tspan x="44.5" dy="5.2">decimal</tspan><tspan x="44.5" dy="5.2">char</tspan><tspan x="44.5" dy="5.2">decimal</tspan><tspan x="44.5" dy="5.2">decimal</tspan><tspan x="44.5" dy="5.2">char</tspan><tspan x="44.5" dy="5.2">decimal</tspan></text></g>
<!-- BasketItem -->
<g transform="translate(443,33)"><rect width="74" height="28.8" rx="1.2" fill="#d5e6fa" stroke="#7b8ba0" stroke-width=".6"/><rect x=".3" y=".3" width="73.4" height="6.7" fill="#c5daf4"/><path class="g" d="M0 7H74M11 7V28.8M43 7V28.8" stroke="#7b8ba0"/><text class="t" x="37" y="5.2">BasketItem</text><text class="r" x="1.3" y="11.1">PK</text><text class="r" x="1.3" y="16.3">FK</text><text class="r" x="1.3" y="26.7">FK</text><text class="r b" y="11.1"><tspan x="12.5">id</tspan><tspan x="12.5" dy="5.2">basket</tspan><tspan x="12.5" dy="5.2">count</tspan><tspan x="12.5" dy="5.2">item</tspan></text><text class="r" y="11.1"><tspan x="44.5">int</tspan><tspan x="44.5" dy="5.2">int</tspan><tspan x="44.5" dy="5.2">int</tspan><tspan x="44.5" dy="5.2">int</tspan></text></g>
<!-- InvoiceEntries -->
<g transform="translate(480,74)"><rect width="74" height="54.8" rx="1.2" fill="#d5e6fa" stroke="#7b8ba0" stroke-width=".6"/><rect x=".3" y=".3" width="73.4" height="6.7" fill="#c5daf4"/><path class="g" d="M0 7H74M11 7V54.8M43 7V54.8" stroke="#7b8ba0"/><text class="t" x="37" y="5.2">InvoiceEntries</text><text class="r" x="1.3" y="11.1">PK</text><text class="r" x="1.3" y="16.3">FK</text><text class="r" x="1.3" y="21.5">FK</text><text class="r" x="1.3" y="26.7">FK</text><text class="r" y="11.1"><tspan x="12.5">id</tspan><tspan x="12.5" dy="5.2">setup_item</tspan><tspan x="12.5" dy="5.2">invoice</tspan><tspan x="12.5" dy="5.2">item_type</tspan><tspan x="12.5" dy="5.2">paid_from</tspan><tspan x="12.5" dy="5.2">paid_to</tspan><tspan x="12.5" dy="5.2">price</tspan><tspan x="12.5" dy="5.2">discount</tspan><tspan x="12.5" dy="5.2">currency</tspan></text><text class="r" y="11.1"><tspan x="44.5">int</tspan><tspan x="44.5" dy="5.2">int</tspan><tspan x="44.5" dy="5.2">int</tspan><tspan x="44.5" dy="5.2">int</tspan><tspan x="44.5" dy="5.2">datetime</tspan><tspan x="44.5" dy="5.2">datetime</tspan><tspan x="44.5" dy="5.2">decimal</tspan><tspan x="44.5" dy="5.2">decimal</tspan><tspan x="44.5" dy="5.2">char</tspan></text></g>
<!-- Items Types -->
<g transform="translate(480,133)"><rect width="74" height="39.2" rx="1.2" fill="#d5e6fa" stroke="#7b8ba0" stroke-width=".6"/><rect x=".3" y=".3" width="73.4" height="6.7" fill="#c5daf4"/><path class="g" d="M0 7H74M11 7V39.2M43 7V39.2" stroke="#7b8ba0"/><text class="t" x="37" y="5.2">Items Types (MP_tree)</text><text class="r" x="1.3" y="11.1">PK</text><text class="r" y="11.1"><tspan x="12.5">id</tspan><tspan x="12.5" dy="5.2">parent</tspan><tspan x="12.5" dy="5.2">name</tspan><tspan x="12.5" dy="5.2">price</tspan><tspan x="12.5" dy="5.2">currency</tspan><tspan x="12.5" dy="5.2">is_custom</tspan></text><text class="r" y="11.1"><tspan x="44.5">int</tspan><tspan x="44.5" dy="5.2">int</tspan><tspan x="44.5" dy="5.2">text</tspan><tspan x="44.5" dy="5.2">decimal</tspan><tspan x="44.5" dy="5.2">char</tspan><tspan x="44.5" dy="5.2">bool</tspan></text></g>
<!-- Billing -->
<g transform="translate(466,203)"><rect width="73" height="44.4" rx="1.2" fill="#d5e6fa" stroke="#7b8ba0" stroke-width=".6"/><rect x=".3" y=".3" width="72.4" height="6.7" fill="#c5daf4"/><path class="g" d="M0 7H73M11 7V44.4M42 7V44.4" stroke="#7b8ba0"/><text class="t" x="36.5" y="5.2">Billing</text><text class="r" x="1.3" y="11.1">PK</text><text class="r" x="1.3" y="16.3">FK</text><text class="r" x="1.3" y="21.5">FK</text><text class="r" x="1.3" y="37.1">ch</text><text class="r b" y="11.1"><tspan x="12.5">id</tspan><tspan x="12.5" dy="5.2">item</tspan><tspan x="12.5" dy="5.2">customer</tspan><tspan x="12.5" dy="5.2">start date</tspan><tspan x="12.5" dy="5.2">end date</tspan><tspan x="12.5" dy="5.2">rate of change</tspan><tspan x="12.5" dy="5.2">amount</tspan></text><text class="r" y="11.1"><tspan x="43.5">int</tspan><tspan x="43.5" dy="5.2">int</tspan><tspan x="43.5" dy="5.2">int</tspan><tspan x="43.5" dy="5.2">datetime</tspan><tspan x="43.5" dy="5.2">datetime</tspan><tspan x="43.5" dy="5.2">char</tspan><tspan x="43.5" dy="5.2">dec</tspan></text></g>
<!-- TicketInvoices -->
<g transform="translate(428,273)"><rect width="74" height="23.6" rx="1.2" fill="#f6e0e0" stroke="#8c7070" stroke-width=".6"/><rect x=".3" y=".3" width="73.4" height="6.7" fill="#efd2d2"/><path class="g" d="M0 7H74M11 7V23.6M43 7V23.6" stroke="#8c7070"/><text class="t" x="37" y="5.2">TicketInvoices</text><text class="r" x="1.3" y="11.1">PK</text><text class="r" x="1.3" y="16.3">FK</text><text class="r" x="1.3" y="21.5">FK</text><text class="r" y="11.1"><tspan x="12.5">id</tspan><tspan x="12.5" dy="5.2">invoice_id</tspan><tspan x="12.5" dy="5.2">ticket_id</tspan></text><text class="r" y="11.1"><tspan x="44.5">serial</tspan><tspan x="44.5" dy="5.2">int</tspan><tspan x="44.5" dy="5.2">int</tspan></text></g>
<!-- TicketServices -->
<g transform="translate(428,303)"><rect width="74" height="23.6" rx="1.2" fill="#f6e0e0" stroke="#8c7070" stroke-width=".6"/><rect x=".3" y=".3" width="73.4" height="6.7" fill="#efd2d2"/><path class="g" d="M0 7H74M11 7V23.6M43 7V23.6" stroke="#8c7070"/><text class="t" x="37" y="5.2">TicketServices</text><text class="r" x="1.3" y="11.1">PK</text><text class="r" x="1.3" y="16.3">FK</text><text class="r" x="1.3" y="21.5">FK</text><text class="r" y="11.1"><tspan x="12.5">id</tspan><tspan x="12.5" dy="5.2">service_id</tspan><tspan x="12.5" dy="5.2">ticket_id</tspan></text><text class="r" y="11.1"><tspan x="44.5">serial</tspan><tspan x="44.5" dy="5.2">int</tspan><tspan x="44.5" dy="5.2">int</tspan></text></g>
<!-- TicketGrouping -->
<g transform="translate(428,332)"><rect width="74" height="23.6" rx="1.2" fill="#f6e0e0" stroke="#8c7070" stroke-width=".6"/><rect x=".3" y=".3" width="73.4" height="6.7" fill="#efd2d2"/><path class="g" d="M0 7H74M11 7V23.6M43 7V23.6" stroke="#8c7070"/><text class="t" x="37" y="5.2">TicketGrouping</text><text class="r" x="1.3" y="11.1">PK</text><text class="r" y="11.1"><tspan x="12.5">id</tspan><tspan x="12.5" dy="5.2">name</tspan><tspan x="12.5" dy="5.2">created_at</tspan></text><text class="r" y="11.1"><tspan x="44.5">serial</tspan><tspan x="44.5" dy="5.2">text</tspan><tspan x="44.5" dy="5.2">timestamp</tspan></text></g>
<!-- ticketer_commentticket -->
<g transform="translate(428,362)"><rect width="74" height="54.8" rx="1.2" fill="#f6e0e0" stroke="#8c7070" stroke-width=".6"/><rect x=".3" y=".3" width="73.4" height="6.7" fill="#efd2d2"/><g fill="#ecd0d0"><rect x=".3" y="12.2" width="73.4" height="5.2"/><rect x=".3" y="22.6" width="73.4" height="5.2"/><rect x=".3" y="33" width="73.4" height="5.2"/><rect x=".3" y="43.4" width="73.4" height="5.2"/></g><path class="g" d="M0 7H74M11 7V54.8M43 7V54.8" stroke="#8c7070"/><text class="t" x="37" y="5.2">ticketer_commentticket</text><text class="r" x="1.3" y="11.1">PK</text><text class="r" x="1.3" y="16.3">FK</text><text class="r" x="1.3" y="21.5">FK</text><text class="r" y="11.1"><tspan x="12.5">id</tspan><tspan x="12.5" dy="5.2">ticket_id</tspan><tspan x="12.5" dy="5.2">author_id</tspan><tspan x="12.5" dy="5.2">is_author_boss</tspan><tspan x="12.5" dy="5.2">is_visible</tspan><tspan x="12.5" dy="5.2">is_viewed</tspan><tspan x="12.5" dy="5.2">text</tspan><tspan x="12.5" dy="5.2">datetime_created</tspan><tspan x="12.5" dy="5.2">datetime_modified</tspan></text><text class="r" y="11.1"><tspan x="44.5">serial</tspan><tspan x="44.5" dy="5.2">int</tspan><tspan x="44.5" dy="5.2">int</tspan><tspan x="44.5" dy="5.2">boolean</tspan><tspan x="44.5" dy="5.2">boolean</tspan><tspan x="44.5" dy="5.2">boolean</tspan><tspan x="44.5" dy="5.2">text</tspan><tspan x="44.5" dy="5.2">timestamptz</tspan><tspan x="44.5" dy="5.2">timestamptz</tspan></text></g>
<!-- TicketHistory -->
<g transform="translate(447,428)"><rect width="55" height="28.8" rx="1.2" fill="#f6e0e0" stroke="#8c7070" stroke-width=".6"/><rect x=".3" y=".3" width="54.4" height="6.7" fill="#efd2d2"/><path class="g" d="M0 7H55M10 7V28.8M33 7V28.8" stroke="#8c7070"/><text class="t" x="27.5" y="5.2">TicketHistory</text><text class="r" x="1.3" y="11.1">PK</text><text class="r" x="1.3" y="16.3">FK</text><text class="r" y="11.1"><tspan x="11.5">id</tspan><tspan x="11.5" dy="5.2">ticket</tspan><tspan x="11.5" dy="5.2">action</tspan><tspan x="11.5" dy="5.2">created_at</tspan></text><text class="r" y="11.1"><tspan x="34.5">serial</tspan><tspan x="34.5" dy="5.2">int</tspan><tspan x="34.5" dy="5.2">text</tspan><tspan x="34.5" dy="5.2">timestamp</tspan></text></g>
<!-- Departments -->
<g transform="translate(447,465)"><rect width="55" height="18.4" rx="1.2" fill="#f6e0e0" stroke="#8c7070" stroke-width=".6"/><rect x=".3" y=".3" width="54.4" height="6.7" fill="#efd2d2"/><path class="g" d="M0 7H55M10 7V18.4M33 7V18.4" stroke="#8c7070"/><text class="t" x="27.5" y="5.2">Departments</text><text class="r" x="1.3" y="11.1">PK</text><text class="r" y="11.1"><tspan x="11.5">id</tspan><tspan x="11.5" dy="5.2">department</tspan></text><text class="r" y="11.1"><tspan x="34.5">int</tspan><tspan x="34.5" dy="5.2">text</tspan></text></g>
<!-- Basket -->
<g transform="translate(590,18)"><rect width="86" height="28.8" rx="1.2" fill="#d5e6fa" stroke="#7b8ba0" stroke-width=".6"/><rect x=".3" y=".3" width="85.4" height="6.7" fill="#c5daf4"/><path class="g" d="M0 7H86M11 7V28.8M48 7V28.8" stroke="#7b8ba0"/><text class="t" x="43" y="5.2">Basket</text><text class="r" x="1.3" y="11.1">PK</text><text class="r" x="1.3" y="16.3">FK</text><text class="r b" y="11.1"><tspan x="12.5">id</tspan><tspan x="12.5" dy="5.2">customer_id</tspan><tspan x="12.5" dy="5.2">created_at</tspan><tspan x="12.5" dy="5.2">updated_at</tspan></text><text class="r" y="11.1"><tspan x="49.5">int</tspan><tspan x="49.5" dy="5.2">int</tspan><tspan x="49.5" dy="5.2">datetime</tspan><tspan x="49.5" dy="5.2">datetime</tspan></text></g>
<!-- Invoice -->
<g transform="translate(590,63)"><rect width="86" height="39.2" rx="1.2" fill="#d5e6fa" stroke="#7b8ba0" stroke-width=".6"/><rect x=".3" y=".3" width="85.4" height="6.7" fill="#c5daf4"/><path class="g" d="M0 7H86M11 7V39.2M48 7V39.2" stroke="#7b8ba0"/><text class="t" x="43" y="5.2">Invoice</text><text class="r" x="1.3" y="11.1">PK</text><text class="r" x="1.3" y="37.1">ch</text><text class="r" y="11.1"><tspan x="12.5">id</tspan><tspan x="12.5" dy="5.2">amount</tspan><tspan x="12.5" dy="5.2">currency</tspan><tspan x="12.5" dy="5.2">created_at</tspan><tspan x="12.5" dy="5.2">due date</tspan><tspan x="12.5" dy="5.2">status</tspan></text><text class="r" y="11.1"><tspan x="49.5">int</tspan><tspan x="49.5" dy="5.2">decimal</tspan><tspan x="49.5" dy="5.2">char</tspan><tspan x="49.5" dy="5.2">datetime</tspan><tspan x="49.5" dy="5.2">datetime</tspan><tspan x="49.5" dy="5.2">char</tspan></text></g>
<!-- InvoiceProvider -->
<g transform="translate(590,115)"><rect width="86" height="23.6" rx="1.2" fill="#d5e6fa" stroke="#7b8ba0" stroke-width=".6"/><rect x=".3" y=".3" width="85.4" height="6.7" fill="#c5daf4"/><path class="g" d="M0 7H86M11 7V23.6M48 7V23.6" stroke="#7b8ba0"/><text class="t" x="43" y="5.2">InvoiceProvider</text><text class="r" x="1.3" y="11.1">PK</text><text class="r" x="1.3" y="16.3">FK</text><text class="r" y="11.1"><tspan x="12.5">pk_id</tspan><tspan x="12.5" dy="5.2">provider</tspan><tspan x="12.5" dy="5.2">provider_invoice_id</tspan></text><text class="r" y="11.1"><tspan x="49.5">int</tspan><tspan x="49.5" dy="5.2">int</tspan><tspan x="49.5" dy="5.2">char</tspan></text></g>
<!-- InvoiceCustomer -->
<g transform="translate(590,144)"><rect width="86" height="18.4" rx="1.2" fill="#d5e6fa" stroke="#7b8ba0" stroke-width=".6"/><rect x=".3" y=".3" width="85.4" height="6.7" fill="#c5daf4"/><path class="g" d="M0 7H86M11 7V18.4M48 7V18.4" stroke="#7b8ba0"/><text class="t" x="43" y="5.2">InvoiceCustomer</text><text class="r" x="1.3" y="11.1">PK</text><text class="r" x="1.3" y="16.3">FK</text><text class="r" y="11.1"><tspan x="12.5">pk_id</tspan><tspan x="12.5" dy="5.2">customer</tspan></text><text class="r" y="11.1"><tspan x="49.5">int</tspan><tspan x="49.5" dy="5.2">int</tspan></text></g>
<!-- Customer -->
<g transform="translate(591,182)"><rect width="85" height="54.8" rx="1.2" fill="#d5e6fa" stroke="#c86070" stroke-width=".7"/><rect x=".3" y=".3" width="84.4" height="6.7" fill="#c5daf4"/><path class="g" d="M0 7H85M11 7V54.8M48 7V54.8" stroke="#c86070"/><text class="t b" x="42.5" y="5.2">Customer</text><text class="r b" x="1.3" y="11.1">PK</text><text class="r b" x="1.3" y="31.9">FK</text><text class="r b" x="1.3" y="47.5">ch</text><text class="r b" y="11.1"><tspan x="12.5">id</tspan><tspan x="12.5" dy="5.2">pass</tspan><tspan x="12.5" dy="5.2">status</tspan><tspan x="12.5" dy="5.2">verification_code</tspan><tspan x="12.5" dy="5.2">personal_operator</tspan><tspan x="12.5" dy="5.2">referral_id</tspan><tspan x="12.5" dy="5.2">balance</tspan><tspan x="12.5" dy="5.2">currency</tspan><tspan x="12.5" dy="5.2">signup_ip</tspan></text><text class="r b" y="11.1"><tspan x="49.5">int</tspan><tspan x="49.5" dy="5.2">text</tspan><tspan x="49.5" dy="5.2">int</tspan><tspan x="49.5" dy="5.2">text</tspan><tspan x="49.5" dy="5.2">int</tspan><tspan x="49.5" dy="5.2">text</tspan><tspan x="49.5" dy="5.2">decimal</tspan><tspan x="49.5" dy="5.2">char</tspan><tspan x="49.5" dy="5.2">inet</tspan></text></g>
<!-- CustomerActivity -->
<g transform="translate(591,243)"><rect width="85" height="28.8" rx="1.2" fill="#d5e6fa" stroke="#7b8ba0" stroke-width=".6"/><rect x=".3" y=".3" width="84.4" height="6.7" fill="#c5daf4"/><path class="g" d="M0 7H85M11 7V28.8M48 7V28.8" stroke="#7b8ba0"/><text class="t" x="42.5" y="5.2">CustomerActivity</text><text class="r" x="1.3" y="11.1">PK</text><text class="r" x="1.3" y="16.3">FK</text><text class="r" x="1.3" y="21.5">FK</text><text class="r" y="11.1"><tspan x="12.5">id</tspan><tspan x="12.5" dy="5.2">customer</tspan><tspan x="12.5" dy="5.2">event_id</tspan><tspan x="12.5" dy="5.2">message</tspan></text><text class="r" y="11.1"><tspan x="49.5">int</tspan><tspan x="49.5" dy="5.2">int</tspan><tspan x="49.5" dy="5.2">int</tspan><tspan x="49.5" dy="5.2">text</tspan></text></g>
<!-- CustomerActivityEvent -->
<g transform="translate(591,277)"><rect width="85" height="18.4" rx="1.2" fill="#d5e6fa" stroke="#7b8ba0" stroke-width=".6"/><rect x=".3" y=".3" width="84.4" height="6.7" fill="#c5daf4"/><path class="g" d="M0 7H85M11 7V18.4M48 7V18.4" stroke="#7b8ba0"/><text class="t" x="42.5" y="5.2">CustomerActivityEvent</text><text class="r" x="1.3" y="11.1">PK</text><text class="r" y="11.1"><tspan x="12.5">id</tspan><tspan x="12.5" dy="5.2">name</tspan></text><text class="r" y="11.1"><tspan x="49.5">int</tspan><tspan x="49.5" dy="5.2">text</tspan></text></g>
<!-- Payment -->
<g transform="translate(746,78)"><rect width="77" height="54.8" rx="1.2" fill="#e4f4cc" stroke="#7a8a68" stroke-width=".6"/><rect x=".3" y=".3" width="76.4" height="6.7" fill="#b8cb9e"/><path class="g" d="M0 7H77M11 7V54.8M45 7V54.8" stroke="#7a8a68"/><text class="t" x="38.5" y="5.2">Payment</text><text class="r" x="1.3" y="11.1">PK</text><text class="r" y="11.1"><tspan x="12.5">id</tspan><tspan x="12.5" dy="5.2">status</tspan><tspan x="12.5" dy="5.2">in_amount</tspan><tspan x="12.5" dy="5.2">in_currency</tspan><tspan x="12.5" dy="5.2">out_amount</tspan><tspan x="12.5" dy="5.2">out_currency</tspan><tspan x="12.5" dy="5.2">out_balance_stamp</tspan><tspan x="12.5" dy="5.2">fee_amount</tspan><tspan x="12.5" dy="5.2">created_at</tspan></text><text class="r" y="11.1"><tspan x="46.5">serial</tspan><tspan x="46.5" dy="5.2">int</tspan><tspan x="46.5" dy="5.2">decimal</tspan><tspan x="46.5" dy="5.2">char</tspan><tspan x="46.5" dy="5.2">decimal</tspan><tspan x="46.5" dy="5.2">char</tspan><tspan x="46.5" dy="5.2">decimal</tspan><tspan x="46.5" dy="5.2">decimal</tspan><tspan x="46.5" dy="5.2">timestamp</tspan></text></g>
<!-- PaymentCharge -->
<g transform="translate(746,145)"><rect width="77" height="23.6" rx="1.2" fill="#e4f4cc" stroke="#7a8a68" stroke-width=".6"/><rect x=".3" y=".3" width="76.4" height="6.7" fill="#b8cb9e"/><path class="g" d="M0 7H77M11 7V23.6M45 7V23.6" stroke="#7a8a68"/><text class="t" x="38.5" y="5.2">PaymentCharge</text><text class="r" x="1.3" y="11.1">PK</text><text class="r" x="1.3" y="16.3">FK</text><text class="r" x="1.3" y="21.5">FK</text><text class="r" y="11.1"><tspan x="12.5">pk_id</tspan><tspan x="12.5" dy="5.2">customer</tspan><tspan x="12.5" dy="5.2">received_funds</tspan></text><text class="r" y="11.1"><tspan x="46.5">int</tspan><tspan x="46.5" dy="5.2">int</tspan><tspan x="46.5" dy="5.2">int</tspan></text></g>
<!-- PaymentRedeem -->
<g transform="translate(746,171)"><rect width="77" height="23.6" rx="1.2" fill="#e4f4cc" stroke="#7a8a68" stroke-width=".6"/><rect x=".3" y=".3" width="76.4" height="6.7" fill="#b8cb9e"/><path class="g" d="M0 7H77M11 7V23.6M45 7V23.6" stroke="#7a8a68"/><text class="t" x="38.5" y="5.2">PaymentRedeem</text><text class="r" x="1.3" y="11.1">PK</text><text class="r" x="1.3" y="16.3">FK</text><text class="r" x="1.3" y="21.5">FK</text><text class="r" y="11.1"><tspan x="12.5">pk_id</tspan><tspan x="12.5" dy="5.2">customer</tspan><tspan x="12.5" dy="5.2">sent_funds</tspan></text><text class="r" y="11.1"><tspan x="46.5">int</tspan><tspan x="46.5" dy="5.2">int</tspan><tspan x="46.5" dy="5.2">int</tspan></text></g>
<!-- PaymentInvoice -->
<g transform="translate(746,197)"><rect width="77" height="23.6" rx="1.2" fill="#e4f4cc" stroke="#7a8a68" stroke-width=".6"/><rect x=".3" y=".3" width="76.4" height="6.7" fill="#b8cb9e"/><path class="g" d="M0 7H77M11 7V23.6M45 7V23.6" stroke="#7a8a68"/><text class="t" x="38.5" y="5.2">PaymentInvoice</text><text class="r" x="1.3" y="11.1">PK</text><text class="r" x="1.3" y="16.3">FK</text><text class="r" x="1.3" y="21.5">FK</text><text class="r" y="11.1"><tspan x="12.5">pk_id</tspan><tspan x="12.5" dy="5.2">customer</tspan><tspan x="12.5" dy="5.2">invoice</tspan></text><text class="r" y="11.1"><tspan x="46.5">int</tspan><tspan x="46.5" dy="5.2">int</tspan><tspan x="46.5" dy="5.2">int</tspan></text></g>
<!-- PaymentProvider -->
<g transform="translate(746,222)"><rect width="77" height="23.6" rx="1.2" fill="#e4f4cc" stroke="#7a8a68" stroke-width=".6"/><rect x=".3" y=".3" width="76.4" height="6.7" fill="#b8cb9e"/><path class="g" d="M0 7H77M11 7V23.6M45 7V23.6" stroke="#7a8a68"/><text class="t" x="38.5" y="5.2">PaymentProvider</text><text class="r" x="1.3" y="11.1">PK</text><text class="r" x="1.3" y="16.3">FK</text><text class="r" x="1.3" y="21.5">FK</text><text class="r" y="11.1"><tspan x="12.5">pk_id</tspan><tspan x="12.5" dy="5.2">provider</tspan><tspan x="12.5" dy="5.2">invoice</tspan></text><text class="r" y="11.1"><tspan x="46.5">int</tspan><tspan x="46.5" dy="5.2">int</tspan><tspan x="46.5" dy="5.2">int | null</tspan></text></g>
<!-- CurrencyRates -->
<g transform="translate(868,74)"><rect width="63" height="34" rx="1.2" fill="#e4f4cc" stroke="#7a8a68" stroke-width=".6"/><rect x=".3" y=".3" width="62.4" height="6.7" fill="#b8cb9e"/><path class="g" d="M0 7H63M10 7V34M36 7V34" stroke="#7a8a68"/><text class="t" x="31.5" y="5.2">CurrencyRates</text><text class="r" x="1.3" y="11.1">PK</text><text class="r" x="1.3" y="16.3">FK</text><text class="r" y="11.1"><tspan x="11.5">id</tspan><tspan x="11.5" dy="5.2">currency</tspan><tspan x="11.5" dy="5.2">rate</tspan><tspan x="11.5" dy="5.2">change_date</tspan><tspan x="11.5" dy="5.2">actual</tspan></text><text class="r" y="11.1"><tspan x="37.5">int</tspan><tspan x="37.5" dy="5.2">char</tspan><tspan x="37.5" dy="5.2">decimal</tspan><tspan x="37.5" dy="5.2">datetime</tspan><tspan x="37.5" dy="5.2">boolean</tspan></text></g>
<!-- ReceivedFunds -->
<g transform="translate(868,119)"><rect width="63" height="54.8" rx="1.2" fill="#e4f4cc" stroke="#7a8a68" stroke-width=".6"/><rect x=".3" y=".3" width="62.4" height="6.7" fill="#b8cb9e"/><path class="g" d="M0 7H63M10 7V54.8M36 7V54.8" stroke="#7a8a68"/><text class="t" x="31.5" y="5.2">ReceivedFunds</text><text class="r" x="1.3" y="11.1">PK</text><text class="r" x="1.3" y="16.3">FK</text><text class="r" y="11.1"><tspan x="11.5">id</tspan><tspan x="11.5" dy="5.2">paysys</tspan><tspan x="11.5" dy="5.2">payer</tspan><tspan x="11.5" dy="5.2">payment_id</tspan><tspan x="11.5" dy="5.2">info</tspan><tspan x="11.5" dy="5.2">amount</tspan><tspan x="11.5" dy="5.2">amount_fee</tspan><tspan x="11.5" dy="5.2">base_rate</tspan><tspan x="11.5" dy="5.2">created_at</tspan></text><text class="r" y="11.1"><tspan x="37.5">int</tspan><tspan x="37.5" dy="5.2">int</tspan><tspan x="37.5" dy="5.2">text</tspan><tspan x="37.5" dy="5.2">text</tspan><tspan x="37.5" dy="5.2">text | json</tspan><tspan x="37.5" dy="5.2">decimal</tspan><tspan x="37.5" dy="5.2">decimal</tspan><tspan x="37.5" dy="5.2">decimal</tspan><tspan x="37.5" dy="5.2">timestamp</tspan></text></g>
<!-- SentFunds -->
<g transform="translate(868,181)"><rect width="63" height="49.6" rx="1.2" fill="#e4f4cc" stroke="#7a8a68" stroke-width=".6"/><rect x=".3" y=".3" width="62.4" height="6.7" fill="#b8cb9e"/><path class="g" d="M0 7H63M10 7V49.6M36 7V49.6" stroke="#7a8a68"/><text class="t" x="31.5" y="5.2">SentFunds</text><text class="r" x="1.3" y="11.1">PK</text><text class="r" x="1.3" y="16.3">FK</text><text class="r" y="11.1"><tspan x="11.5">id</tspan><tspan x="11.5" dy="5.2">paysys</tspan><tspan x="11.5" dy="5.2">payer</tspan><tspan x="11.5" dy="5.2">payment_id</tspan><tspan x="11.5" dy="5.2">amount</tspan><tspan x="11.5" dy="5.2">amount_fee</tspan><tspan x="11.5" dy="5.2">base_rate</tspan><tspan x="11.5" dy="5.2">created_at</tspan></text><text class="r" y="11.1"><tspan x="37.5">int</tspan><tspan x="37.5" dy="5.2">int</tspan><tspan x="37.5" dy="5.2">text</tspan><tspan x="37.5" dy="5.2">text</tspan><tspan x="37.5" dy="5.2">decimal</tspan><tspan x="37.5" dy="5.2">decimal</tspan><tspan x="37.5" dy="5.2">decimal</tspan><tspan x="37.5" dy="5.2">timestamp</tspan></text></g>
<!-- PaymentSystems -->
<g transform="translate(963,151)"><rect width="56" height="34" rx="1.2" fill="#e4f4cc" stroke="#7a8a68" stroke-width=".6"/><rect x=".3" y=".3" width="55.4" height="6.7" fill="#b8cb9e"/><path class="g" d="M0 7H56M11 7V34M34 7V34" stroke="#7a8a68"/><text class="t" x="28" y="5.2">PaymentSystems</text><text class="r" x="1.3" y="11.1">PK</text><text class="r" y="11.1"><tspan x="12.5">id</tspan><tspan x="12.5" dy="5.2">fkey</tspan><tspan x="12.5" dy="5.2">name</tspan><tspan x="12.5" dy="5.2">comment</tspan><tspan x="12.5" dy="5.2">currency</tspan></text><text class="r" y="11.1"><tspan x="35.5">int</tspan><tspan x="35.5" dy="5.2">text</tspan><tspan x="35.5" dy="5.2">text</tspan><tspan x="35.5" dy="5.2">text</tspan><tspan x="35.5" dy="5.2">char</tspan></text></g>
<!-- CustomerContacts -->
<g transform="translate(749,284)"><rect width="78" height="54.8" rx="1.2" fill="#d5e6fa" stroke="#c86070" stroke-width=".7"/><rect x=".3" y=".3" width="77.4" height="6.7" fill="#c5daf4"/><g fill="#bfd5f0"><rect x=".3" y="12.2" width="77.4" height="5.2"/><rect x=".3" y="22.6" width="77.4" height="5.2"/><rect x=".3" y="33" width="77.4" height="5.2"/><rect x=".3" y="43.4" width="77.4" height="5.2"/></g><path class="g" d="M0 7H78M12 7V54.8M44 7V54.8" stroke="#c86070"/><text class="t" x="39" y="5.2">CustomerContacts</text><text class="r" x="1.3" y="11.1">PK</text><text class="r" x="1.3" y="16.3">FK</text><text class="r" y="11.1"><tspan x="13.5">id</tspan><tspan x="13.5" dy="5.2">customer</tspan><tspan x="13.5" dy="5.2">account</tspan><tspan x="13.5" dy="5.2">account_type</tspan><tspan x="13.5" dy="5.2">is_login</tspan><tspan x="13.5" dy="5.2">status</tspan><tspan x="13.5" dy="5.2">comment</tspan><tspan x="13.5" dy="5.2">created_at</tspan><tspan x="13.5" dy="5.2">updated_at</tspan></text><text class="r" y="11.1"><tspan x="45.5">int</tspan><tspan x="45.5" dy="5.2">int</tspan><tspan x="45.5" dy="5.2">text</tspan><tspan x="45.5" dy="5.2">int</tspan><tspan x="45.5" dy="5.2">boolean</tspan><tspan x="45.5" dy="5.2">int</tspan><tspan x="45.5" dy="5.2">text</tspan><tspan x="45.5" dy="5.2">datetime</tspan><tspan x="45.5" dy="5.2">datetime</tspan></text></g>
<!-- Ticket -->
<g transform="translate(547,336)"><rect width="85" height="65.2" rx="1.2" fill="#f6e0e0" stroke="#8c7070" stroke-width=".6"/><rect x=".3" y=".3" width="84.4" height="6.7" fill="#efd2d2"/><g fill="#ebcccc"><rect x=".3" y="12.2" width="84.4" height="5.2"/><rect x=".3" y="22.6" width="84.4" height="5.2"/><rect x=".3" y="33" width="84.4" height="5.2"/><rect x=".3" y="43.4" width="84.4" height="5.2"/><rect x=".3" y="53.8" width="84.4" height="5.2"/></g><path class="g" d="M0 7H85M11 7V65.2M47 7V65.2" stroke="#8c7070"/><text class="t" x="42.5" y="5.2">Ticket</text><text class="r" x="1.3" y="11.1">PK</text><text class="r" x="1.3" y="16.3">FK</text><text class="r" x="1.3" y="21.5">FK</text><text class="r" x="1.3" y="52.7">FK</text><text class="r" x="1.3" y="63.1">FK</text><text class="r" y="11.1"><tspan x="12.5">id</tspan><tspan x="12.5" dy="5.2">assignee</tspan><tspan x="12.5" dy="5.2">department</tspan><tspan x="12.5" dy="5.2">ticket_type</tspan><tspan x="12.5" dy="5.2">subject</tspan><tspan x="12.5" dy="5.2">date</tspan><tspan x="12.5" dy="5.2">transport_contact_id</tspan><tspan x="12.5" dy="5.2">transport_type</tspan><tspan x="12.5" dy="5.2">action_chat_id</tspan><tspan x="12.5" dy="5.2">status</tspan><tspan x="12.5" dy="5.2">group_id</tspan></text><text class="r" y="11.1"><tspan x="48.5">int</tspan><tspan x="48.5" dy="5.2">int</tspan><tspan x="48.5" dy="5.2">int</tspan><tspan x="48.5" dy="5.2">int</tspan><tspan x="48.5" dy="5.2">text</tspan><tspan x="48.5" dy="5.2">datetime</tspan><tspan x="48.5" dy="5.2">char</tspan><tspan x="48.5" dy="5.2">[TELEGRAM|ICQ...</tspan><tspan x="48.5" dy="5.2">int</tspan><tspan x="48.5" dy="5.2">int open|closed|archive</tspan><tspan x="48.5" dy="5.2">int</tspan></text></g>
<!-- TicketClient -->
<g transform="translate(547,406)"><rect width="85" height="13.2" rx="1.2" fill="#f6e0e0" stroke="#8c7070" stroke-width=".6"/><rect x=".3" y=".3" width="84.4" height="6.7" fill="#efd2d2"/><path class="g" d="M0 7H85M11 7V13.2M47 7V13.2" stroke="#8c7070"/><text class="t" x="42.5" y="5.2">TicketClient</text><text class="r" x="1.3" y="11.1">FK</text><text class="r" x="12.5" y="11.1">author_client</text><text class="r" x="48.5" y="11.1">int</text></g>
<!-- TicketOperator -->
<g transform="translate(547,428)"><rect width="85" height="13.2" rx="1.2" fill="#f6e0e0" stroke="#8c7070" stroke-width=".6"/><rect x=".3" y=".3" width="84.4" height="6.7" fill="#efd2d2"/><path class="g" d="M0 7H85M11 7V13.2M47 7V13.2" stroke="#8c7070"/><text class="t" x="42.5" y="5.2">TicketOperator</text><text class="r" x="1.3" y="11.1">FK</text><text class="r" x="12.5" y="11.1">author_operator</text><text class="r" x="48.5" y="11.1">int</text></g>
<!-- TicketProvider -->
<g transform="translate(547,450)"><rect width="85" height="13.2" rx="1.2" fill="#f6e0e0" stroke="#8c7070" stroke-width=".6"/><rect x=".3" y=".3" width="84.4" height="6.7" fill="#efd2d2"/><path class="g" d="M0 7H85M11 7V13.2M47 7V13.2" stroke="#8c7070"/><text class="t" x="42.5" y="5.2">TicketProvider</text><text class="r" x="1.3" y="11.1">FK</text><text class="r" x="12.5" y="11.1">author_provider</text><text class="r" x="48.5" y="11.1">int</text></g>
<!-- ActiveChats -->
<g transform="translate(664,358)"><rect width="74" height="23.6" rx="1.2" fill="#f6e0e0" stroke="#8c7070" stroke-width=".6"/><rect x=".3" y=".3" width="73.4" height="6.7" fill="#efd2d2"/><path class="g" d="M0 7H74M11 7V23.6M43 7V23.6" stroke="#8c7070"/><text class="t" x="37" y="5.2">ActiveChats</text><text class="r" x="1.3" y="11.1">PK</text><text class="r" x="1.3" y="16.3">FK</text><text class="r" y="11.1"><tspan x="12.5">id</tspan><tspan x="12.5" dy="5.2">operator</tspan><tspan x="12.5" dy="5.2">last_check</tspan></text><text class="r" y="11.1"><tspan x="44.5">serial</tspan><tspan x="44.5" dy="5.2">int</tspan><tspan x="44.5" dy="5.2">timestamp</tspan></text></g>
<!-- TicketMacros -->
<g transform="translate(664,395)"><rect width="74" height="23.6" rx="1.2" fill="#f6e0e0" stroke="#8c7070" stroke-width=".6"/><rect x=".3" y=".3" width="73.4" height="6.7" fill="#efd2d2"/><path class="g" d="M0 7H74M11 7V23.6M43 7V23.6" stroke="#8c7070"/><text class="t" x="37" y="5.2">TicketMacros</text><text class="r" x="1.3" y="11.1">PK</text><text class="r" y="11.1"><tspan x="12.5">id</tspan><tspan x="12.5" dy="5.2">name</tspan><tspan x="12.5" dy="5.2">text</tspan></text><text class="r" y="11.1"><tspan x="44.5">serial</tspan><tspan x="44.5" dy="5.2">char</tspan><tspan x="44.5" dy="5.2">text</tspan></text></g>
<!-- TicketAttachments -->
<g transform="translate(664,436)"><rect width="74" height="44.4" rx="1.2" fill="#f6e0e0" stroke="#8c7070" stroke-width=".6"/><rect x=".3" y=".3" width="73.4" height="6.7" fill="#efd2d2"/><path class="g" d="M0 7H74M11 7V44.4M43 7V44.4" stroke="#8c7070"/><text class="t" x="37" y="5.2">TicketAttachments</text><text class="r" x="1.3" y="11.1">PK</text><text class="r" x="1.3" y="16.3">FK</text><text class="r" y="11.1"><tspan x="12.5">id</tspan><tspan x="12.5" dy="5.2">ticket_id</tspan><tspan x="12.5" dy="5.2">author_id</tspan><tspan x="12.5" dy="5.2">is_author_boss</tspan><tspan x="12.5" dy="5.2">filename_fs</tspan><tspan x="12.5" dy="5.2">filename_orig</tspan><tspan x="12.5" dy="5.2">created_at</tspan></text><text class="r" y="11.1"><tspan x="44.5">serial</tspan><tspan x="44.5" dy="5.2">int</tspan><tspan x="44.5" dy="5.2">int</tspan><tspan x="44.5" dy="5.2">boolean</tspan><tspan x="44.5" dy="5.2">char</tspan><tspan x="44.5" dy="5.2">char</tspan><tspan x="44.5" dy="5.2">timestamp</tspan></text></g>
<!-- chatter_channel -->
<g transform="translate(787,380)"><rect width="85" height="65.2" rx="1.2" fill="#fff" stroke="#555" stroke-width=".6"/><path class="g" d="M0 7H85M11 7V65.2M48 7V65.2" stroke="#555"/><text class="t" x="42.5" y="5.2">chatter_channel</text><text class="r" x="1.3" y="11.1">PK</text><text class="r" y="11.1"><tspan x="12.5">id</tspan><tspan x="12.5" dy="5.2">name</tspan><tspan x="12.5" dy="5.2">srv_ver_key</tspan><tspan x="12.5" dy="5.2">published_messages</tspan><tspan x="12.5" dy="5.2">stored_messages</tspan><tspan x="12.5" dy="5.2">subscribers</tspan><tspan x="12.5" dy="5.2">user_id</tspan><tspan x="12.5" dy="5.2">is_boss_user</tspan><tspan x="12.5" dy="5.2">datetime_created</tspan><tspan x="12.5" dy="5.2">datetime_modified</tspan><tspan x="12.5" dy="5.2">last_message_id</tspan></text><text class="r" y="11.1"><tspan x="49.5">serial</tspan><tspan x="49.5" dy="5.2">text</tspan><tspan x="49.5" dy="5.2">char</tspan><tspan x="49.5" dy="5.2">int</tspan><tspan x="49.5" dy="5.2">int</tspan><tspan x="49.5" dy="5.2">int</tspan><tspan x="49.5" dy="5.2">int</tspan><tspan x="49.5" dy="5.2">bool</tspan><tspan x="49.5" dy="5.2">timestamptz</tspan><tspan x="49.5" dy="5.2">timestamptz</tspan><tspan x="49.5" dy="5.2">int</tspan></text></g>
<!-- MainUser -->
<g transform="translate(919,365)"><rect width="67" height="26.6" rx="1.2" fill="#fff" stroke="#555" stroke-width=".6"/><path class="g" d="M0 10H67M11 10V26.6M39 10V26.6" stroke="#555"/><text class="t" x="33.5" y="4.3">MainUser (operator)</text><text class="t" x="33.5" y="8.6">наследуемый от User</text><text class="r" x="1.3" y="14.1">PK</text><text class="r" x="1.3" y="19.3">M2M</text><text class="r" y="14.1"><tspan x="12.5">user_ptr_id</tspan><tspan x="12.5" dy="5.2">group_as_roles</tspan><tspan x="12.5" dy="5.2">date_of_birth</tspan></text><text class="r" y="14.1"><tspan x="40.5">int</tspan><tspan x="40.5" dy="5.2">int</tspan><tspan x="40.5" dy="5.2">date</tspan></text></g>
<!-- UserContact -->
<g transform="translate(1023,332)"><rect width="66" height="44.4" rx="1.2" fill="#fff" stroke="#7a4a4a" stroke-width=".6"/><path class="g" d="M0 7H66M10 7V44.4M39 7V44.4" stroke="#7a4a4a"/><text class="t" x="33" y="5.2">UserContact</text><text class="r" x="1.3" y="11.1">PK</text><text class="r" x="1.3" y="31.9">Key</text><text class="r" x="1.3" y="42.3">Key</text><text class="r" y="11.1"><tspan x="11.5">user_id</tspan><tspan x="11.5" dy="5.2">contact_type</tspan><tspan x="11.5" dy="5.2">contact</tspan><tspan x="11.5" dy="5.2">is_main</tspan><tspan x="11.5" dy="5.2">is_login</tspan><tspan x="11.5" dy="5.2">activated</tspan><tspan x="11.5" dy="5.2">activation_key</tspan></text><text class="r" y="11.1"><tspan x="40.5">int</tspan><tspan x="40.5" dy="5.2">choices</tspan><tspan x="40.5" dy="5.2">char</tspan><tspan x="40.5" dy="5.2">bool</tspan><tspan x="40.5" dy="5.2">bool</tspan><tspan x="40.5" dy="5.2">bool</tspan><tspan x="40.5" dy="5.2">char</tspan></text></g>
<!-- auth_user -->
<g transform="translate(1103,373)"><rect width="67" height="75.6" rx="1.2" fill="#fff" stroke="#7a4a4a" stroke-width=".6"/><path class="g" d="M0 7H67M11 7V75.6M40 7V65" stroke="#7a4a4a"/><text class="t" x="33.5" y="5.2">auth_user</text><text class="r" x="1.3" y="11.1">PK</text><text class="r" x="1.3" y="68.3">M2M</text><text class="r" x="1.3" y="73.5">M2M</text><text class="r" y="11.1"><tspan x="12.5">id</tspan><tspan x="12.5" dy="5.2">password</tspan><tspan x="12.5" dy="5.2">last_login</tspan><tspan x="12.5" dy="5.2">is_superuser</tspan><tspan x="12.5" dy="5.2">username</tspan><tspan x="12.5" dy="5.2">first_name</tspan><tspan x="12.5" dy="5.2">last_name</tspan><tspan x="12.5" dy="5.2">email</tspan><tspan x="12.5" dy="5.2">is_staff</tspan><tspan x="12.5" dy="5.2">is_active</tspan><tspan x="12.5" dy="5.2">date_joined</tspan><tspan x="12.5" dy="5.2">groups</tspan><tspan x="12.5" dy="5.2">permission</tspan></text><text class="r" y="11.1"><tspan x="41.5">serial</tspan><tspan x="41.5" dy="5.2">text</tspan><tspan x="41.5" dy="5.2">timestamptz</tspan><tspan x="41.5" dy="5.2">boolean</tspan><tspan x="41.5" dy="5.2">text</tspan><tspan x="41.5" dy="5.2">text</tspan><tspan x="41.5" dy="5.2">text</tspan><tspan x="41.5" dy="5.2">text</tspan><tspan x="41.5" dy="5.2">boolean</tspan><tspan x="41.5" dy="5.2">boolean</tspan><tspan x="41.5" dy="5.2">timestamptz</tspan></text></g>
<!-- auth_permission -->
<g transform="translate(1026,391)"><rect width="67" height="28.8" rx="1.2" fill="#fff" stroke="#7a4a4a" stroke-width=".6"/><path class="g" d="M0 7H67M10 7V28.8M43 7V28.8" stroke="#7a4a4a"/><text class="t" x="33.5" y="5.2">auth_permission</text><text class="r" x="1.3" y="11.1">PK</text><text class="r" x="1.3" y="21.5">FK</text><text class="r" y="11.1"><tspan x="11.5">id</tspan><tspan x="11.5" dy="5.2">name</tspan><tspan x="11.5" dy="5.2">content_type_id</tspan><tspan x="11.5" dy="5.2">codename</tspan></text><text class="r" y="11.1"><tspan x="44.5">serial</tspan><tspan x="44.5" dy="5.2">text</tspan><tspan x="44.5" dy="5.2">int</tspan><tspan x="44.5" dy="5.2">text</tspan></text></g>
<!-- auth_group -->
<g transform="translate(1033,432)"><rect width="56" height="23.6" rx="1.2" fill="#fff" stroke="#7a4a4a" stroke-width=".6"/><path class="g" d="M0 7H56M10 7V23.6M35 7V18" stroke="#7a4a4a"/><text class="t" x="28" y="5.2">auth_group</text><text class="r" x="1.3" y="11.1">PK</text><text class="r" x="1.3" y="21.5">M2M</text><text class="r" y="11.1"><tspan x="11.5">id</tspan><tspan x="11.5" dy="5.2">name</tspan><tspan x="11.5" dy="5.2">permissions</tspan></text><text class="r" y="11.1"><tspan x="36.5">serial</tspan><tspan x="36.5" dy="5.2">text</tspan></text></g>
<!-- django_content_type -->
<g transform="translate(1033,468)"><rect width="56" height="28.8" rx="1.2" fill="#fff" stroke="#7a4a4a" stroke-width=".6"/><path class="g" d="M0 7H56M10 7V28.8M35 7V28.8" stroke="#7a4a4a"/><text class="t" x="28" y="5.2">django_content_type</text><text class="r" x="1.3" y="11.1">PK</text><text class="r" x="1.3" y="21.5">FK</text><text class="r" x="1.3" y="26.7">FK</text><text class="r" y="11.1"><tspan x="11.5">id</tspan><tspan x="11.5" dy="5.2">name</tspan><tspan x="11.5" dy="5.2">app_label</tspan><tspan x="11.5" dy="5.2">model</tspan></text><text class="r" y="11.1"><tspan x="36.5">serial</tspan><tspan x="36.5" dy="5.2">text</tspan><tspan x="36.5" dy="5.2">text</tspan><tspan x="36.5" dy="5.2">text</tspan></text></g>
</svg>
</body></html>
